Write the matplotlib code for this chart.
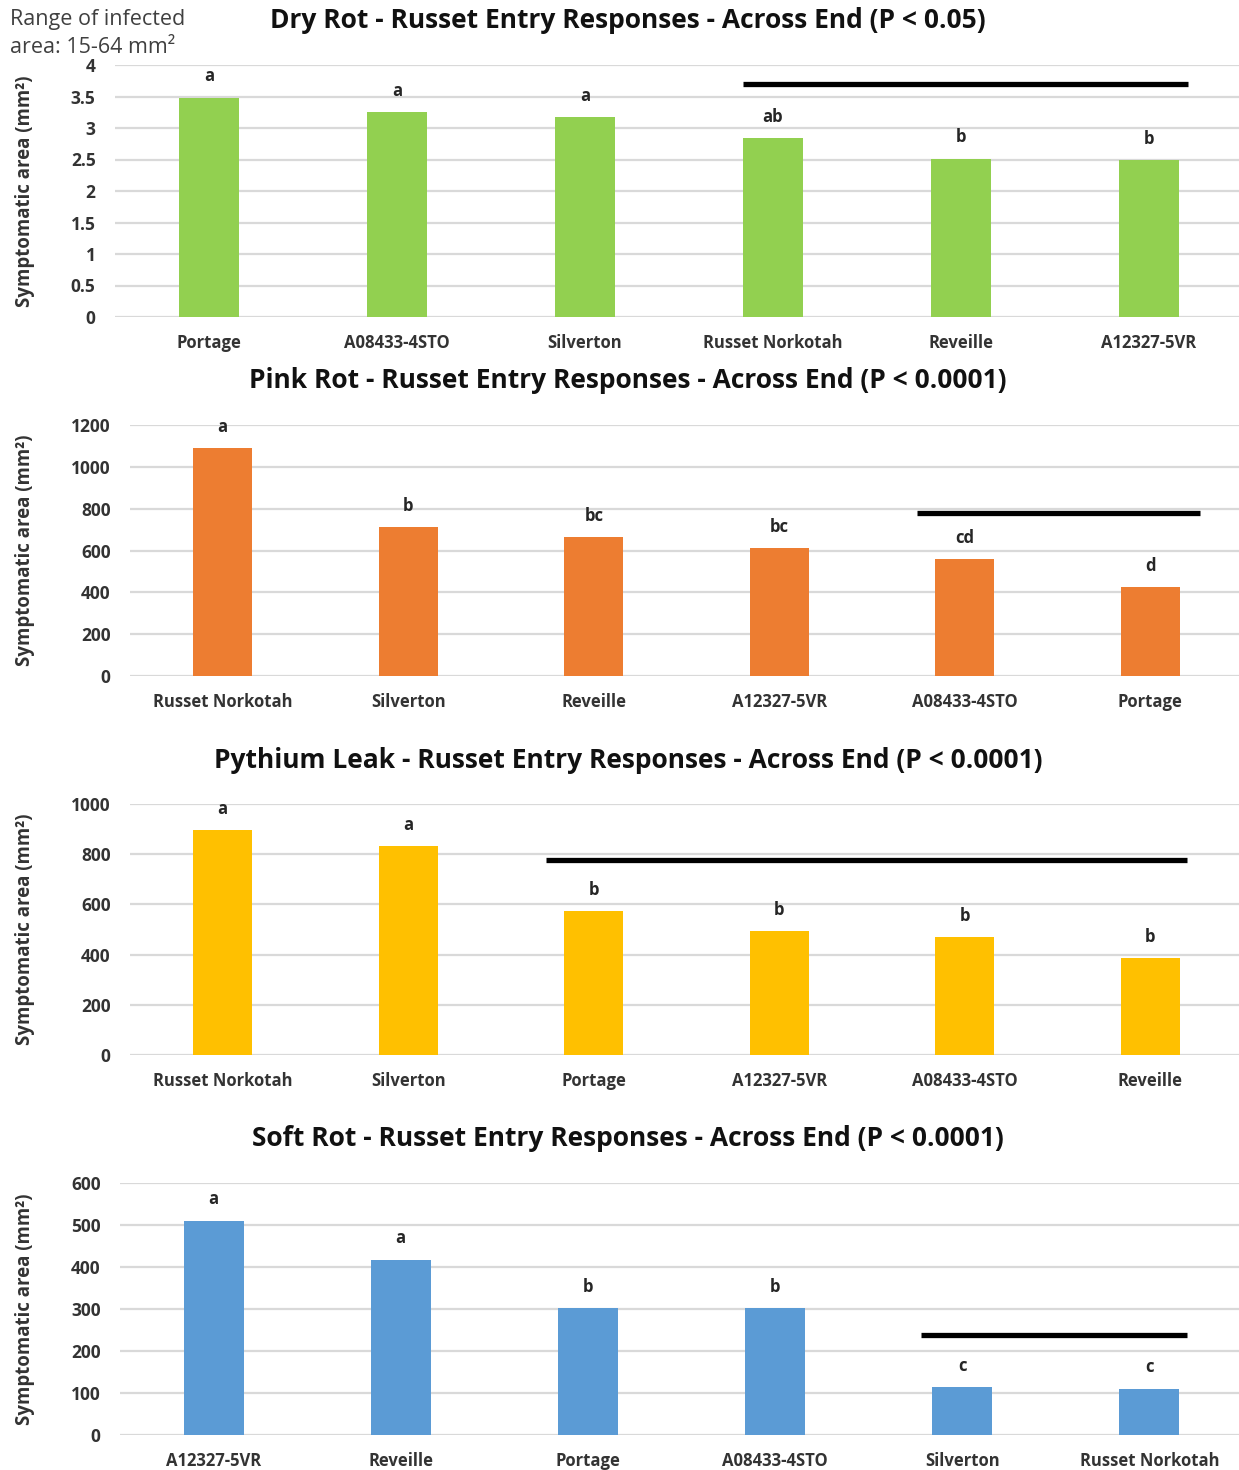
import matplotlib.pyplot as plt

plt.rcParams['font.family'] = ['Open Sans', 'DejaVu Sans']

# Dry rot
dry_cultivars = ['Portage', 'A08433-4STO', 'Silverton', 'Russet Norkotah', 'Reveille', 'A12327-5VR']
dry_area = [3.48, 3.25, 3.17, 2.84, 2.51, 2.49]
dry_letters = ['a', 'a', 'a', 'ab', 'b', 'b']

# Pink rot
pink_cultivars = ['Russet Norkotah', 'Silverton', 'Reveille', 'A12327-5VR', 'A08433-4STO', 'Portage']
pink_area = [1090, 712, 664, 612, 559, 425]
pink_letters = ['a', 'b', 'bc', 'bc', 'cd', 'd']

# Pythium leak
pyth_cultivars = ['Russet Norkotah', 'Silverton', 'Portage', 'A12327-5VR', 'A08433-4STO', 'Reveille']
pyth_area = [896, 833, 574, 494, 470, 386]
pyth_letters = ['a', 'a', 'b', 'b', 'b', 'b']

# Soft rot
soft_cultivars = ['A12327-5VR', 'Reveille', 'Portage', 'A08433-4STO', 'Silverton', 'Russet Norkotah']
soft_area = [510, 417, 302, 302, 114, 110]
soft_letters = ['a', 'a', 'b', 'b', 'c', 'c']

# group bars: (x start, x end, level) in category units / y units
dry_bar = (2.84, 5.21, 3.70)
pink_bar = (3.74, 5.27, 780)
pyth_bar = (1.74, 5.20, 777)
soft_bar = (3.78, 5.20, 238)

panels = [
    dict(title='Dry Rot - Russet Entry Responses - Across End (P < 0.05)',
         cats=dry_cultivars, vals=dry_area, letters=dry_letters, bar=dry_bar,
         color='#92D050', ymax=4, step=0.5, box=(115, 65, 317), title_y=20),
    dict(title='Pink Rot - Russet Entry Responses - Across End (P < 0.0001)',
         cats=pink_cultivars, vals=pink_area, letters=pink_letters, bar=pink_bar,
         color='#ED7D31', ymax=1200, step=200, box=(130, 425, 676), title_y=381),
    dict(title='Pythium Leak - Russet Entry Responses - Across End (P < 0.0001)',
         cats=pyth_cultivars, vals=pyth_area, letters=pyth_letters, bar=pyth_bar,
         color='#FFC000', ymax=1000, step=200, box=(130, 804, 1055), title_y=760),
    dict(title='Soft Rot - Russet Entry Responses - Across End (P < 0.0001)',
         cats=soft_cultivars, vals=soft_area, letters=soft_letters, bar=soft_bar,
         color='#5B9BD5', ymax=600, step=100, box=(120, 1183, 1435), title_y=1138),
]

W, H = 1239, 1470
fig = plt.figure(figsize=(W / 100, H / 100), dpi=100)

for p in panels:
    left, top, bottom = p['box']
    span = 1243 - left
    ax = fig.add_axes([left / W, 1 - bottom / H, span / W, (bottom - top) / H])
    x = range(len(p['cats']))
    ax.bar(x, p['vals'], width=0.32, color=p['color'], zorder=3)
    ax.set_xlim(-0.5, 5.5)
    ax.set_ylim(0, p['ymax'])
    n = int(round(p['ymax'] / p['step']))
    ticks = [i * p['step'] for i in range(n + 1)]
    ax.set_yticks(ticks)
    ax.set_yticklabels(['{:g}'.format(t) for t in ticks], fontsize=12.5,
                       fontweight='bold', color='#333333')
    ax.set_xticks(list(x))
    ax.set_xticklabels(p['cats'], fontsize=12, fontweight='bold', color='#333333')
    ax.tick_params(axis='both', length=0)
    ax.tick_params(axis='x', pad=12)
    ax.tick_params(axis='y', pad=14)
    ax.grid(axis='y', color='#d9d9d9', linewidth=1.6, zorder=0)
    for s in ax.spines.values():
        s.set_visible(False)
    ax.set_ylabel('Symptomatic area (mm²)', fontsize=13.4, fontweight='bold',
                  color='#333333')
    ax.yaxis.set_label_coords((35 - left) / span, 0.5)

    off = p['ymax'] * 0.085
    for xi, v, lt in zip(x, p['vals'], p['letters']):
        ax.text(xi, v + off, lt, ha='center', va='center', fontsize=12,
                fontweight='bold', color='#262626', zorder=4)

    x0, x1, lvl = p['bar']
    ax.hlines(lvl, x0, x1, color='black', linewidth=3.8, zorder=4)

    fig.text(628 / W, 1 - p['title_y'] / H, p['title'], ha='center', va='center',
             fontsize=19, fontweight='bold', color='#111111')

fig.text(10 / W, 1 - 25 / H, 'Range of infected', ha='left', va='baseline',
         fontsize=15.5, color='#404040')
fig.text(10 / W, 1 - 53 / H, 'area: 15-64 mm²', ha='left', va='baseline',
         fontsize=15.5, color='#404040')

fig.savefig('out.png', dpi=100)
